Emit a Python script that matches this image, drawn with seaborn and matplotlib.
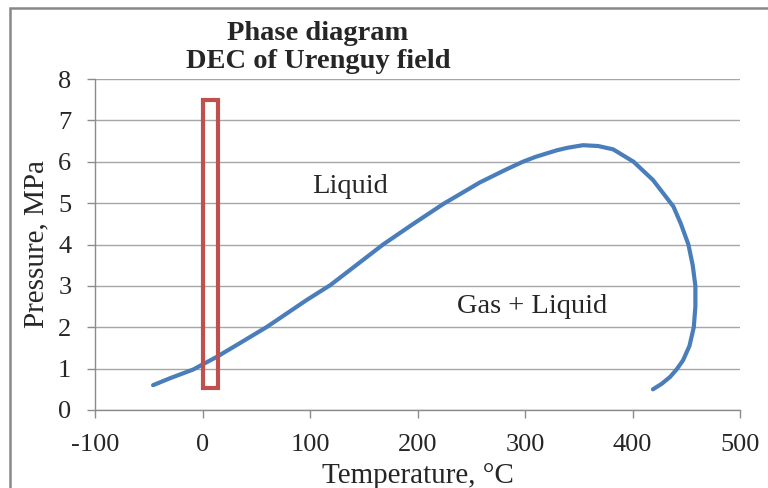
import matplotlib
matplotlib.use("Agg")
import matplotlib.pyplot as plt
from matplotlib.patches import Rectangle
import pandas as pd
import seaborn as sns

# Phase envelope
temperature = [-46, -30, -8.5, 0, 13, 35, 60, 97, 119, 145, 168, 195, 224, 258,
               283, 298, 310, 320, 330, 340, 354, 368, 382, 401, 419, 438, 445,
               452, 456, 458.5, 458.5, 457, 453, 447, 441, 435, 427, 419]
pressure = [0.6, 0.77, 0.98, 1.1, 1.28, 1.62, 2.01, 2.66, 3.02, 3.54, 4.0, 4.48, 4.98,
            5.5, 5.82, 6.0, 6.12, 6.2, 6.28, 6.34, 6.4, 6.38, 6.3, 6.0, 5.56, 4.92,
            4.5, 4.0, 3.5, 3.0, 2.5, 2.0, 1.55, 1.2, 0.98, 0.8, 0.63, 0.5]

# Highlighted operating window (red box)
box_t = [0, 14]
box_p = [0.52, 7.5]

x_ticks = [-100, 0, 100, 200, 300, 400, 500]
y_ticks = [0, 1, 2, 3, 4, 5, 6, 7, 8]

df = pd.DataFrame({"T": temperature, "P": pressure})

sns.set_style("white")
plt.rcParams["font.family"] = ["Liberation Serif", "DejaVu Serif"]

fig = plt.figure(figsize=(7.68, 4.88), dpi=100)
ax = fig.add_axes([95 / 768, 1 - 410 / 488, 645 / 768, 331 / 488])

sns.lineplot(data=df, x="T", y="P", sort=False, estimator=None, ax=ax,
             color="#4A7EBB", lw=3.0, solid_capstyle="round", solid_joinstyle="round")

ax.add_patch(Rectangle((box_t[0], box_p[0]), box_t[1] - box_t[0], box_p[1] - box_p[0],
                       fill=False, edgecolor="#C0504D", lw=3.0, zorder=3))

ax.set_xlim(x_ticks[0], x_ticks[-1])
ax.set_ylim(y_ticks[0], y_ticks[-1])
ax.set_xticks(x_ticks)
ax.set_yticks(y_ticks)
ax.set_xticklabels([str(t) for t in x_ticks])
ax.set_yticklabels([str(t) for t in y_ticks])

ax.grid(True, axis="y", color="#A6A6A6", lw=1.0)
ax.set_axisbelow(True)
for side in ["top", "right"]:
    ax.spines[side].set_visible(False)
for side in ["left", "bottom"]:
    ax.spines[side].set_color("#8C8C8C")
    ax.spines[side].set_linewidth(1.0)

ax.tick_params(axis="both", direction="out", length=6, width=1.0, color="#8C8C8C",
               labelsize=19, bottom=True, left=True)
ax.tick_params(axis="x", pad=11)
ax.tick_params(axis="y", pad=11)

ax.set_xlabel("Temperature, °C", fontsize=21, labelpad=5)
ax.set_ylabel("Pressure, MPa", fontsize=21, labelpad=6)

ax.text(137, 5.4, "Liquid", fontsize=20.5, ha="center", va="center")
ax.text(307, 2.5, "Gas + Liquid", fontsize=20.5, ha="center", va="center")

fig.text(318 / 768, 1 - 33 / 488, "Phase diagram", fontsize=20.5, fontweight="bold",
         ha="center", va="center")
fig.text(318 / 768, 1 - 62 / 488, "DEC of Urenguy field", fontsize=20.5, fontweight="bold",
         ha="center", va="center")

# chart area border (cut off on the right and bottom)
fig.patches.append(Rectangle((10 / 768, -0.1), 1.2, 1 - 8 / 488 + 0.1,
                             transform=fig.transFigure, fill=False,
                             edgecolor="#888888", lw=1.8))

fig.savefig("out.png", dpi=100)
